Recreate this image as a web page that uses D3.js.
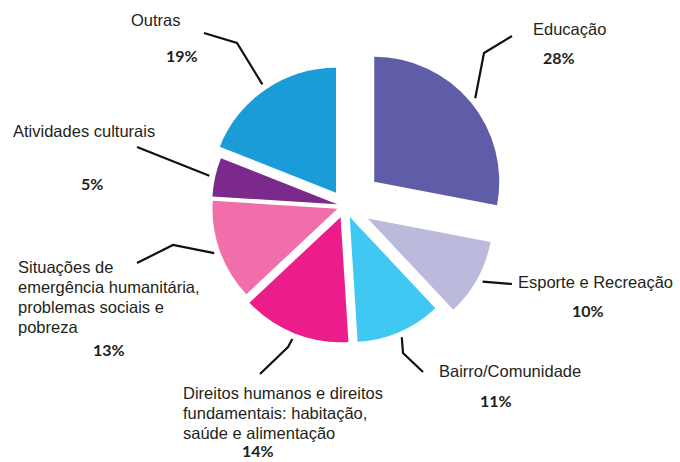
<!DOCTYPE html>
<html>
<head>
<meta charset="utf-8">
<script src="https://cdn.jsdelivr.net/npm/d3@7"></script>
<style>
  html, body { margin: 0; padding: 0; background: #fff; }
  svg { display: block; }
</style>
</head>
<body>
<svg id="chart" width="680" height="462"></svg>
<script>
// ---- data ----
const categories = [
  "Educação",
  "Esporte e Recreação",
  "Bairro/Comunidade",
  "Direitos humanos e direitos fundamentais: habitação, saúde e alimentação",
  "Situações de emergência humanitária, problemas sociais e pobreza",
  "Atividades culturais",
  "Outras"
];
const values = [28, 10, 11, 14, 13, 5, 19];
const percentLabels = ["28%", "10%", "11%", "14%", "13%", "5%", "19%"];

// ---- style / layout ----
const colors = ["#5f5ca8", "#bbb9dc", "#41c8f2", "#ec1c8a", "#f06fab", "#7b2a8b", "#1a9cd8"];
const explode = [38, 26, 12, 12, 8, 8, 16];
const center = [345, 206];
const radius = 125;
const labelLayout = [
  { lines: ["Educação"], x: 533, y: 35, px: 543, py: 64, leader: [[484, 53], [512, 36]] },
  { lines: ["Esporte e Recreação"], x: 518, y: 288, px: 572, py: 317, leader: [[512, 284]] },
  { lines: ["Bairro/Comunidade"], x: 439, y: 377, px: 480, py: 407, leader: [[403, 353], [423, 372]] },
  { lines: ["Direitos humanos e direitos", "fundamentais: habitação,", "saúde e alimentação"], x: 183, y: 399, px: 242, py: 457, leader: [[288, 347], [260, 374]] },
  { lines: ["Situações de", "emergência humanitária,", "problemas sociais e", "pobreza"], x: 18, y: 273, px: 93, py: 356, leader: [[173, 245], [137, 263]] },
  { lines: ["Atividades culturais"], x: 13, y: 137, px: 81, py: 190, leader: [[137, 147]] },
  { lines: ["Outras"], x: 131, y: 26, px: 166, py: 62, leader: [[237, 43], [204, 33]] }
];

const svg = d3.select("#chart");
const data = categories.map((c, i) => ({ name: c, value: values[i], i }));

const pie = d3.pie().sort(null).value(d => d.value).startAngle(0).endAngle(2 * Math.PI);
const arcs = pie(data);
const arc = d3.arc().innerRadius(0).outerRadius(radius);
const leaderArc = d3.arc().innerRadius(radius + 6).outerRadius(radius + 6);

function offsetOf(a) {
  const mid = (a.startAngle + a.endAngle) / 2;
  const d = explode[a.data.i];
  return [center[0] + d * Math.sin(mid), center[1] - d * Math.cos(mid)];
}

const g = svg.append("g");
g.selectAll("path.slice")
  .data(arcs)
  .join("path")
  .attr("class", "slice")
  .attr("transform", a => { const o = offsetOf(a); return `translate(${o[0]},${o[1]})`; })
  .attr("d", arc)
  .attr("fill", a => colors[a.data.i]);

// leader lines
const line = d3.line();
g.selectAll("path.leader")
  .data(arcs)
  .join("path")
  .attr("class", "leader")
  .attr("d", a => {
    const o = offsetOf(a);
    const c = leaderArc.centroid(a);
    const pts = [[o[0] + c[0], o[1] + c[1]], ...labelLayout[a.data.i].leader];
    return line(pts);
  })
  .attr("fill", "none")
  .attr("stroke", "#111")
  .attr("stroke-width", 2.2);

// labels
arcs.forEach(a => {
  const L = labelLayout[a.data.i];
  const t = svg.append("text")
    .attr("x", L.x).attr("y", L.y)
    .attr("font-family", "Liberation Sans, Arial, sans-serif")
    .attr("font-size", 16.5)
    .attr("fill", "#231f20");
  L.lines.forEach((ln, k) => {
    t.append("tspan").attr("x", L.x).attr("y", L.y + k * 20).text(ln);
  });
  svg.append("text")
    .attr("x", L.px).attr("y", L.py)
    .attr("font-family", "Lato, Open Sans, sans-serif")
    .attr("font-weight", "bold")
    .attr("font-size", 16)
    .attr("fill", "#231f20")
    .text(percentLabels[a.data.i]);
});
</script>
</body>
</html>
